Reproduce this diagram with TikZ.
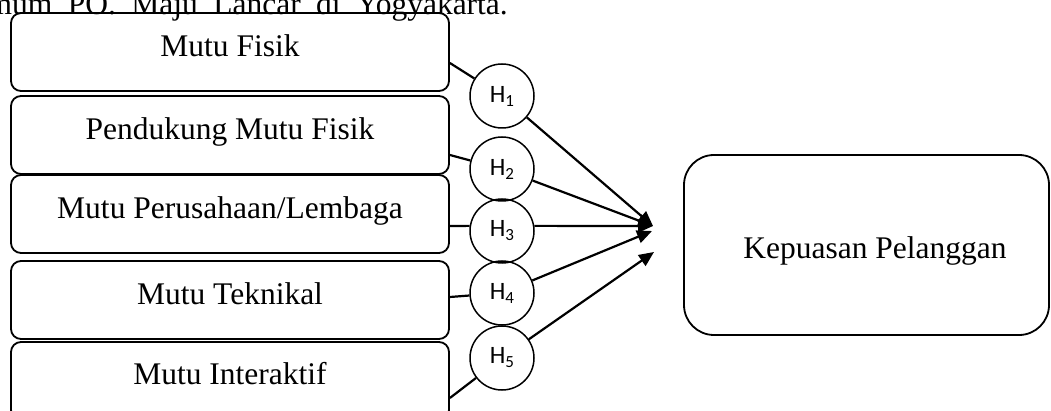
\documentclass[tikz,border=0pt]{standalone}
\usepackage{fontspec}
\setmainfont{Liberation Serif}
\newfontfamily\hfont{Carlito}
\usetikzlibrary{arrows.meta}
\begin{document}
\begin{tikzpicture}[x=1pt,y=-1pt,
  box/.style={draw, line width=1.8pt, rounded corners=10pt, minimum width=438pt,
    inner sep=0pt, text height=44pt, text depth=34pt, font=\fontsize{31.5}{36}\selectfont},
  bigbox/.style={draw, line width=1.8pt, rounded corners=30pt, minimum width=365pt,
    minimum height=180pt, inner sep=0pt},
  txt/.style={inner sep=0pt, anchor=base, font=\fontsize{31.5}{36}\selectfont},
  hyp/.style={draw, circle, line width=1.5pt, minimum size=64pt, inner sep=0pt,
    font=\hfont\fontsize{25}{28}\selectfont},
  sub/.style={},
  link/.style={line width=2.2pt},
  arrowlink/.style={line width=2.2pt, -{Triangle[length=15pt,width=13pt]}}]
\useasboundingbox (0,0) rectangle (1051,411);
\clip (0,0) rectangle (1051,411);

% clipped caption line at top
\node[txt, anchor=base east] (cap) at (508,15)
  {\frenchspacing\spaceskip=0.49em umum PO. Maju Lancar di Yogyakarta.};

% left boxes
\node[box] (b1) at (230,52) {Mutu Fisik};
\node[box] (b2) at (230,135) {Pendukung Mutu Fisik};
\node[box] (b3) at (230,214) {Mutu Perusahaan/Lembaga};
\node[box] (b4) at (230,300) {Mutu Teknikal};
\node[box, text height=42pt, text depth=36pt] (b5) at (230,381) {Mutu Interaktif};

% hypothesis circles
\node[hyp] (H1) at (502,96)  {H\raisebox{-4pt}{\fontsize{17}{18}\selectfont 1}};
\node[hyp] (H2) at (502,169) {H\raisebox{-4pt}{\fontsize{17}{18}\selectfont 2}};
\node[hyp] (H3) at (502,231) {H\raisebox{-4pt}{\fontsize{17}{18}\selectfont 3}};
\node[hyp] (H4) at (502,293) {H\raisebox{-4pt}{\fontsize{17}{18}\selectfont 4}};
\node[hyp] (H5) at (502,358) {H\raisebox{-4pt}{\fontsize{17}{18}\selectfont 5}};

% target box
\node[bigbox] (kp) at (866.5,245) {};
\node[txt] (kptxt) at (875,259) {Kepuasan Pelanggan};

% arrow end points
\coordinate (t1) at (653,226);
\coordinate (t2) at (652,231);
\coordinate (t3) at (654,252);

% box to circle links
\draw[link] ([yshift=-11pt]b1.east) -- (H1);
\draw[link] ([yshift=-20pt]b2.east) -- (H2);
\draw[link] ([yshift=-12pt]b3.east) -- (H3.171);
\draw[link] ([yshift=3pt]b4.east) -- (H4);
\draw[link] ([yshift=-17pt]b5.east) -- (H5);

% circle to target arrows
\draw[arrowlink] (H1) -- (t1);
\draw[arrowlink] (H2) -- (t1);
\draw[arrowlink] (H3.9) -- (t1);
\draw[arrowlink] (H4) -- (t2);
\draw[arrowlink] (H5) -- (t3);
\end{tikzpicture}
\end{document}
